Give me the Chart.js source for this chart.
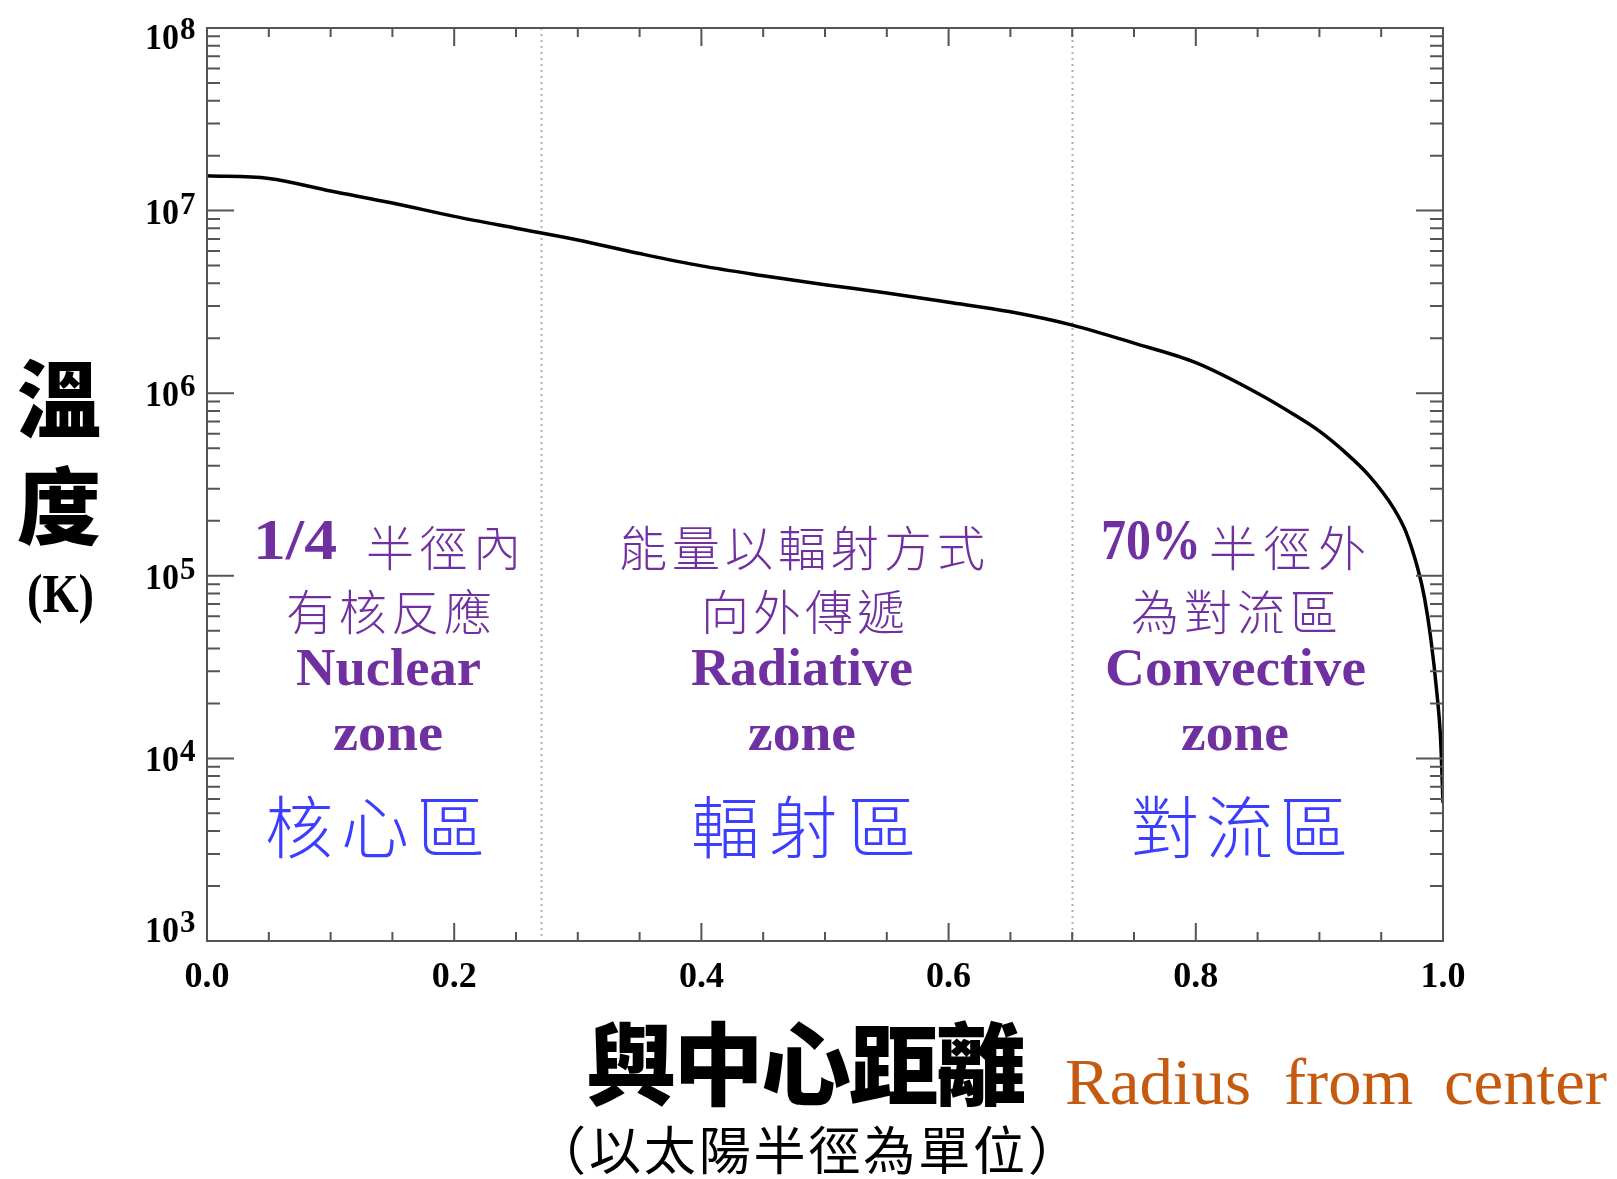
<!DOCTYPE html>
<html>
<head>
<meta charset="utf-8">
<title>太陽內部溫度</title>
<script src="https://cdn.jsdelivr.net/npm/chart.js@4.4.1/dist/chart.umd.min.js"></script>
<style>
  html, body { margin: 0; padding: 0; background: #ffffff; overflow: hidden; }
  canvas { display: block; }
</style>
</head>
<body>
<canvas id="solar" width="1617" height="1179"></canvas>
<script>
// Temperature inside the Sun versus distance from the centre (in solar radii)
const radius = [0, 0.05, 0.1, 0.15, 0.2, 0.25, 0.3, 0.35, 0.4, 0.45, 0.5, 0.55, 0.6, 0.65, 0.7,
                0.75, 0.8, 0.85, 0.88, 0.9, 0.92, 0.94, 0.96, 0.97, 0.98, 0.985, 0.99, 0.995, 0.998, 1.0];
const temperature = [1.55e7, 1.50e7, 1.28e7, 1.10e7, 9.3e6, 8.0e6, 6.9e6, 5.82e6, 4.98e6, 4.40e6, 3.93e6,
                     3.54e6, 3.15e6, 2.79e6, 2.36e6, 1.88e6, 1.47e6, 1.0e6, 7.6e5, 6.2e5, 4.8e5, 3.55e5,
                     2.35e5, 1.74e5, 1.07e5, 7.6e4, 4.6e4, 2.3e4, 1.3e4, 5.7e3];

// Axis ticks
const xTickValues = [0, 0.2, 0.4, 0.6, 0.8, 1.0];
const xTickLabels = ['0.0', '0.2', '0.4', '0.6', '0.8', '1.0'];
const yDecadeExponents = [3, 4, 5, 6, 7, 8];

// Zone boundaries (solar radii) and the zone descriptions
const zoneBoundaries = [0.27, 0.7];
const zoneLead   = ['1/4', '', '70%'];
const zoneLine1  = ['半徑內', '能量以輻射方式', '半徑外'];
const zoneLine2  = ['有核反應', '向外傳遞', '為對流區'];
const zoneNameEn = ['Nuclear', 'Radiative', 'Convective'];
const zoneWord   = ['zone', 'zone', 'zone'];
const zoneNameZh = ['核心區', '輻射區', '對流區'];

// Axis titles
const yTitleChars = ['溫', '度'];
const yTitleUnit = '(K)';
const xTitleZh = '與中心距離';
const xTitleEn = ['Radius', 'from', 'center'];
const xTitleNote = '（以太陽半徑為單位）';

// Page layout for the annotation text: [left, right] spans and vertical positions
const layoutText = {
  lead:   [[253, 337], null, [1101, 1201]],
  line1:  [[366, 521], [619, 985], [1209, 1366]],
  line2:  [[286, 492], [701, 905], [1131, 1338]],
  nameEn: [[296, 481], [691, 913], [1105, 1366]],
  word:   [[333, 443], [748, 856], [1181, 1289]],
  nameZh: [[265, 485], [691, 916], [1131, 1348]],
  line1Y: 548, line2Y: 612, nameEnBase: 685, wordBase: 750, nameZhY: 827, leadBase: 559,
  xTitleEn: [[1065, 1251], [1284, 1413], [1444, 1607]]
};

const PURPLE = '#7030a0';
const BLUE = '#3d3dff';
const ORANGE = '#c55a11';
const AXIS = '#555555';
const SERIF = '"Liberation Serif", "DejaVu Serif", serif';
const CJK = '"Noto Sans CJK TC", "Noto Sans CJK SC", sans-serif';

// Spread characters evenly so the text fills [left, right]
function spreadText(ctx, text, left, right, cy, font, color) {
  ctx.save();
  ctx.font = font;
  ctx.fillStyle = color;
  ctx.textBaseline = 'middle';
  ctx.textAlign = 'left';
  const chars = Array.from(text);
  const widths = chars.map(c => ctx.measureText(c).width);
  const total = widths.reduce((a, b) => a + b, 0);
  const gap = chars.length > 1 ? (right - left - total) / (chars.length - 1) : 0;
  let x = chars.length > 1 ? left : (left + right - total) / 2;
  chars.forEach((c, i) => { ctx.fillText(c, x, cy); x += widths[i] + gap; });
  ctx.restore();
}

// Draw a string squeezed or stretched horizontally to span [left, right]
function fitText(ctx, text, left, right, baseline, font, color) {
  ctx.save();
  ctx.font = font;
  ctx.fillStyle = color;
  ctx.textBaseline = 'alphabetic';
  ctx.textAlign = 'left';
  const w = ctx.measureText(text).width;
  ctx.translate(left, baseline);
  ctx.scale((right - left) / w, 1);
  ctx.fillText(text, 0, 0);
  ctx.restore();
}

const zoneLinesPlugin = {
  id: 'zoneLines',
  beforeDatasetsDraw(chart) {
    const { ctx, chartArea: a, scales: { x } } = chart;
    ctx.save();
    ctx.strokeStyle = '#b0b0b0';
    ctx.lineWidth = 2;
    ctx.setLineDash([2, 4]);
    zoneBoundaries.forEach(v => {
      const px = Math.round(x.getPixelForValue(v)) + 0.5;
      ctx.beginPath();
      ctx.moveTo(px, a.top);
      ctx.lineTo(px, a.bottom);
      ctx.stroke();
    });
    ctx.restore();
  }
};

const framePlugin = {
  id: 'frameAndTicks',
  afterDatasetsDraw(chart) {
    const { ctx, chartArea: a, scales: { x, y } } = chart;
    ctx.save();
    ctx.strokeStyle = AXIS;
    ctx.lineWidth = 2;
    ctx.strokeRect(a.left, a.top, a.right - a.left, a.bottom - a.top);

    // logarithmic ticks on the left and right axes, pointing inward
    ctx.beginPath();
    for (let e = 3; e <= 8; e++) {
      for (let k = 1; k <= 9; k++) {
        if (e === 8 && k > 1) break;
        const py = y.getPixelForValue(k * Math.pow(10, e));
        const len = k === 1 ? 27 : 13;
        ctx.moveTo(a.left, py); ctx.lineTo(a.left + len, py);
        ctx.moveTo(a.right, py); ctx.lineTo(a.right - len, py);
      }
    }
    // linear ticks on the bottom and top axes
    for (let i = 1; i < 20; i++) {
      const px = x.getPixelForValue(i * 0.05);
      const len = i % 4 === 0 ? 18 : 9;
      ctx.moveTo(px, a.bottom); ctx.lineTo(px, a.bottom - len);
      ctx.moveTo(px, a.top); ctx.lineTo(px, a.top + len);
    }
    ctx.stroke();
    ctx.restore();
  },
  afterDraw(chart) {
    const { ctx, chartArea: a, scales: { x, y } } = chart;
    ctx.save();
    ctx.fillStyle = '#000';

    // x tick labels
    ctx.font = 'bold 36px ' + SERIF;
    ctx.textAlign = 'center';
    ctx.textBaseline = 'alphabetic';
    xTickValues.forEach((v, i) => {
      ctx.fillText(xTickLabels[i], x.getPixelForValue(v), a.bottom + 46);
    });

    // y tick labels: 10 with a raised exponent
    yDecadeExponents.forEach((e, i) => {
      const py = y.getPixelForValue(Math.pow(10, e));
      let base = py + 13;
      if (i === 0) base = py + 1;
      if (i === yDecadeExponents.length - 1) base = py + 21;
      ctx.save();
      ctx.font = 'bold 36px ' + SERIF;
      ctx.textAlign = 'left';
      const w10 = ctx.measureText('10').width;
      ctx.translate(a.left - 62, base);
      ctx.scale(34 / w10, 1);
      ctx.fillText('10', 0, 0);
      ctx.restore();
      ctx.font = 'bold 31px ' + SERIF;
      ctx.textAlign = 'left';
      ctx.fillText(String(e), a.left - 27, base - 10);
    });

    // y axis title
    ctx.font = '900 84px ' + CJK;
    ctx.textAlign = 'center';
    ctx.textBaseline = 'middle';
    ctx.fillText(yTitleChars[0], 59, 399);
    ctx.fillText(yTitleChars[1], 59, 506);
    fitText(ctx, yTitleUnit, 27, 94, 612, 'bold 54px ' + SERIF, '#000');

    // x axis titles
    spreadText(ctx, xTitleZh, 586, 1026, 1064, '900 90px ' + CJK, '#000');
    xTitleEn.forEach((word, i) => {
      const [l, r] = layoutText.xTitleEn[i];
      fitText(ctx, word, l, r, 1104, '66px ' + SERIF, ORANGE);
    });
    spreadText(ctx, xTitleNote, 534, 1080, 1150, '52px ' + CJK, '#000');

    // zone descriptions
    for (let i = 0; i < 3; i++) {
      if (zoneLead[i]) {
        const [l, r] = layoutText.lead[i];
        fitText(ctx, zoneLead[i], l, r, layoutText.leadBase, 'bold 56px ' + SERIF, PURPLE);
      }
      let [l, r] = layoutText.line1[i];
      spreadText(ctx, zoneLine1[i], l, r, layoutText.line1Y, '300 48px ' + CJK, PURPLE);
      [l, r] = layoutText.line2[i];
      spreadText(ctx, zoneLine2[i], l, r, layoutText.line2Y, '300 48px ' + CJK, PURPLE);
      [l, r] = layoutText.nameEn[i];
      fitText(ctx, zoneNameEn[i], l, r, layoutText.nameEnBase, 'bold 53px ' + SERIF, PURPLE);
      [l, r] = layoutText.word[i];
      fitText(ctx, zoneWord[i], l, r, layoutText.wordBase, 'bold 53px ' + SERIF, PURPLE);
      [l, r] = layoutText.nameZh[i];
      spreadText(ctx, zoneNameZh[i], l, r, layoutText.nameZhY, '300 68px ' + CJK, BLUE);
    }
    ctx.restore();
  }
};

new Chart(document.getElementById('solar'), {
  type: 'line',
  data: {
    datasets: [{
      label: '溫度',
      data: radius.map((r, i) => ({ x: r, y: temperature[i] })),
      borderColor: '#000000',
      borderWidth: 3.5,
      pointRadius: 0,
      fill: false,
      cubicInterpolationMode: 'monotone'
    }]
  },
  options: {
    responsive: false,
    animation: false,
    devicePixelRatio: 1,
    layout: { padding: { left: 207, top: 28, right: 174, bottom: 238 } },
    plugins: { legend: { display: false }, tooltip: { enabled: false } },
    scales: {
      x: { type: 'linear', min: 0, max: 1, display: false },
      y: { type: 'logarithmic', min: 1e3, max: 1e8, display: false }
    }
  },
  plugins: [zoneLinesPlugin, framePlugin]
});
</script>
</body>
</html>
